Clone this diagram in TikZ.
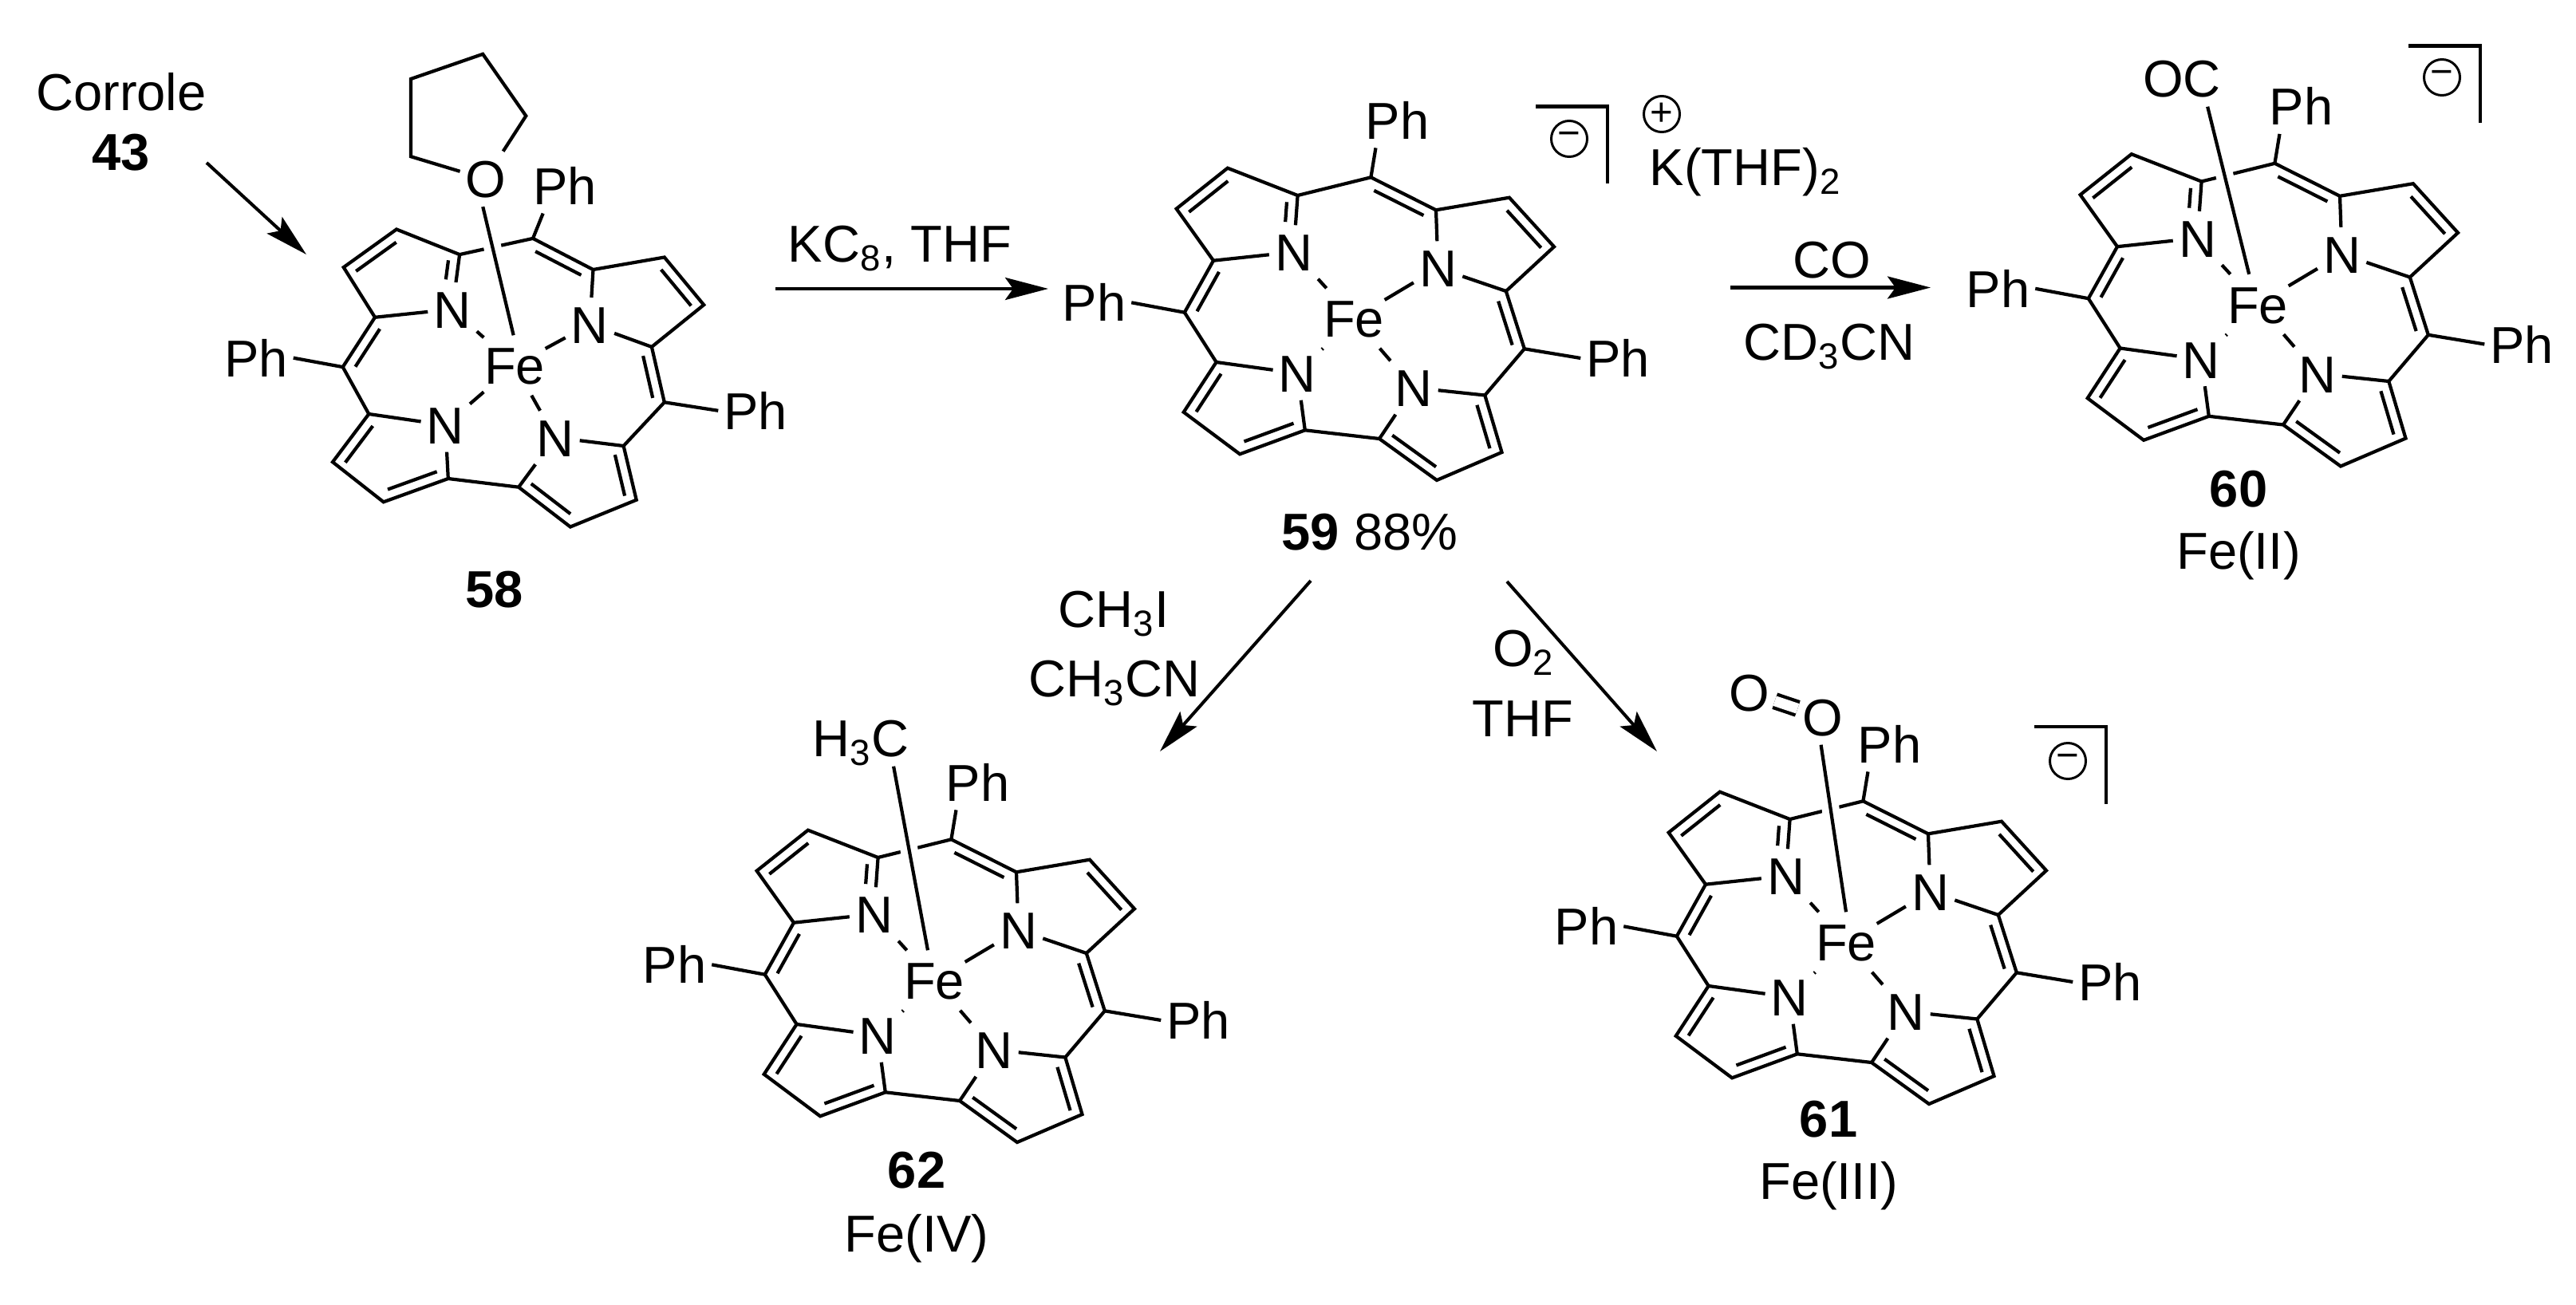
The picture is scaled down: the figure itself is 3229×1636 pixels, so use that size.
\documentclass[tikz,border=0pt]{standalone}
\usepackage{fontspec}
\setmainfont{Liberation Sans}
\usetikzlibrary{arrows.meta,calc}
\tikzset{
  txt/.style={inner sep=0pt, text height=.47cm, text depth=0pt, font=\fontsize{18.5}{22}\selectfont},
  atomN/.style={txt, minimum width=.6cm, minimum height=.66cm},
  atomFe/.style={txt, minimum width=.72cm, minimum height=.74cm},
  atomPh/.style={txt, minimum width=.92cm, minimum height=.68cm},
  atomO/.style={txt, minimum width=.62cm, minimum height=.68cm},
  ligand/.style={txt, minimum height=.7cm},
  bond/.style={line width=1.2pt},
  axial/.style={bond, preaction={draw, white, line width=.22cm}},
  rxn/.style={line width=1.15pt, -{Stealth[length=.54cm, width=.28cm, inset=.1cm]}},
  charge/.style={draw, circle, line width=.85pt, inner sep=0pt, minimum size=.45cm, font=\fontsize{14}{14}\selectfont},
  bracket/.style={line width=1.15pt}
}
% inner line of a double bond, on the left of the way from #1 to #2
\newcommand{\innerbond}[2]{\draw[bond] ($(#1)!.12!(#2)!.13cm!90:(#2)$) -- ($(#2)!.12!(#1)!.13cm!-90:(#1)$);}
\newcommand{\ringpoints}[2]{\foreach \v/\px/\py in {#2} {\coordinate (#1\v) at (\px,\py);}}
\newcommand{\ringN}[2]{\foreach \v/\px/\py in {#2} {\node[atomN] (#1\v) at (\px,\py) {N};}}
\newcommand{\corrolebonds}[1]{
  \draw[bond] (#1a4) -- (#1a3) -- (#1a2) -- (#1a1) -- (#1mt) -- (#1c4) -- (#1c3) -- (#1c2) -- (#1c1) -- (#1mr) -- (#1b8) -- (#1b7) -- (#1b6) -- (#1b5) -- (#1b4) -- (#1b3) -- (#1b2) -- (#1b1) -- (#1ml) -- cycle;
  \draw[bond] (#1a1) -- (#1N1);
  \draw[bond] (#1a4) -- (#1N1);
  \draw[bond] (#1c4) -- (#1N2);
  \draw[bond] (#1c1) -- (#1N2);
  \draw[bond] (#1b1) -- (#1N3);
  \draw[bond] (#1b4) -- (#1N3);
  \draw[bond] (#1b5) -- (#1N4);
  \draw[bond] (#1b8) -- (#1N4);
  \draw[bond] (#1fe) -- (#1N1);
  \draw[bond] (#1fe) -- (#1N2);
  \draw[bond] (#1fe) -- (#1N3);
  \draw[bond] (#1fe) -- (#1N4);
  \draw[bond] (#1mt) -- (#1phT.232);
  \draw[bond] (#1ml) -- (#1phL.0);
  \draw[bond] (#1mr) -- (#1phR.180);
  \innerbond{#1a2}{#1a3}
  \innerbond{#1c4}{#1mt}
  \innerbond{#1c2}{#1c3}
  \innerbond{#1mr}{#1c1}
  \innerbond{#1b7}{#1b8}
  \innerbond{#1b5}{#1b6}
  \innerbond{#1b3}{#1b4}
  \innerbond{#1b1}{#1b2}
  \innerbond{#1a4}{#1ml}
  \draw[bond] ($(#1N1)!.52!(#1a1)!.13cm!90:(#1a1)$) -- ($(#1a1)!.13!(#1N1)!.13cm!-90:(#1N1)$);
}
% #1 name, #2 x, #3 y of the iron
\newcommand{\corrole}[3]{
  \begin{scope}[shift={(#2,#3)}]
    \ringpoints{#1}{a1/-70.4/-154, a2/-158.2/-188.3, a3/-222.4/-137.3, a4/-176/-72.3, ml/-212.2/-7.3,
      b1/-172.4/55, b2/-213.3/117.7, b3/-142.9/170.3, b4/-61.2/140.3, b5/32/151, b6/104/203,
      b7/185.5/168, b8/164.3/96.5, mr/213.8/38.3, c1/190.8/-34, c2/251/-89.7, c3/194.9/-151.3,
      c4/103/-135.7, mt/21.4/-176.7}
    \ringN{#1}{N1/-75.5/-83, N2/105.6/-63, N3/-70.7/69, N4/75/87}
    \node[atomFe] (#1fe) at (0,0) {Fe};
    \node[atomPh] (#1phT) at (54.6,-248.3) {Ph};
    \node[atomPh] (#1phL) at (-325.5,-19.7) {Ph};
    \node[atomPh] (#1phR) at (331,50) {Ph};
    \corrolebonds{#1}
  \end{scope}
}
\begin{document}
\begin{tikzpicture}[x=.01cm, y=-.01cm]
  \useasboundingbox (0,0) rectangle (3229,1636);
  % compound 58
  \begin{scope}[shift={(645,458)}]
    \ringpoints{m58}{a1/-68.9/-138.9, a2/-148/-170.5, a3/-214.3/-122.9, a4/-175/-60.2, ml/-215.3/2.1,
      b1/-182.7/61, b2/-228/121.2, b3/-164.3/171.3, b4/-83.2/142, b5/5.1/152.7, b6/69.9/202.5,
      b7/152.7/168.7, b8/136.6/101, mr/187.8/46.3, c1/171.9/-23.1, c2/237.2/-75.8, c3/187.8/-135.5,
      c4/98.5/-120, mt/23/-159.1}
    \ringN{m58}{N1/-78/-70.3, N2/94.4/-51.3, N3/-86.7/74.9, N4/51/90.5}
    \node[atomFe] (m58fe) at (0,0) {Fe};
    \node[atomPh] (m58phT) at (62.8,-225.2) {Ph};
    \node[atomPh] (m58phL) at (-324,-9.3) {Ph};
    \node[atomPh] (m58phR) at (302,56.8) {Ph};
    \corrolebonds{m58}
    \node[atomO] (m58O) at (-36.7,-233.6) {O};
    \coordinate (thf1) at (-130.1,-261.8);
    \coordinate (thf2) at (-130.1,-359);
    \coordinate (thf3) at (-39.8,-390.2);
    \coordinate (thf4) at (14.3,-312.7);
    \draw[bond] (m58O) -- (thf1) -- (thf2) -- (thf3) -- (thf4) -- (m58O);
    \draw[axial] (m58fe.92) -- (m58O.265);
  \end{scope}
  \node[txt] (lab58) at (620,738) {\textbf{58}};
  \node[txt] (corrole) at (152,115) {Corrole};
  \node[txt] (lab43) at (152,190) {\textbf{43}};
  \coordinate (start58) at (259,204);
  \coordinate (end58) at (384,319);
  \draw[rxn] (start58) -- (end58);

  % compound 59
  \corrole{m59}{1697}{399}
  \node[txt] (lab59) at (1717,666) {\textbf{59} 88\%};
  \coordinate (bra59a) at (1925,133.5);
  \coordinate (bra59b) at (2015,230);
  \draw[bracket] (bra59a) -| (bra59b);
  \node[charge] (minus59) at (1967,174) {−};
  \node[charge] (plus59) at (2083,143) {+};
  \node[txt] (potassium) at (2188,209) {K(THF)\textsubscript{2}};
  \coordinate (start59) at (972,362);
  \coordinate (end59) at (1314,362);
  \draw[rxn] (start59) -- (end59);
  \node[txt] (reagent59) at (1128,305) {KC\textsubscript{8}, THF};

  % compound 60
  \corrole{m60}{2830}{381.5}
  \node[ligand] (oc60) at (2735,98) {OC};
  \draw[axial] (m60fe.106) -- (oc60.312);
  \node[txt] (lab60) at (2806,612) {\textbf{60}};
  \node[txt] (ox60) at (2806,690) {Fe(II)};
  \coordinate (bra60a) at (3019,57.5);
  \coordinate (bra60b) at (3109,154);
  \draw[bracket] (bra60a) -| (bra60b);
  \node[charge] (minus60) at (3061,97) {−};
  \coordinate (start60) at (2169,360.5);
  \coordinate (end60) at (2420,360.5);
  \draw[rxn] (start60) -- (end60);
  \node[txt] (reagent60a) at (2296,325) {CO};
  \node[txt] (reagent60b) at (2293,428) {CD\textsubscript{3}CN};

  % compound 61
  \corrole{m61}{2314}{1181}
  \node[atomO] (oxo) at (2285,899) {O};
  \node[atomO] (oxoEnd) at (2193,868) {O};
  \draw[bond, double, double distance=.13cm] (oxo) -- (oxoEnd);
  \draw[axial] (m61fe.90) -- (oxo.266);
  \node[txt] (lab61) at (2292,1402) {\textbf{61}};
  \node[txt] (ox61) at (2292,1480) {Fe(III)};
  \coordinate (bra61a) at (2550,911);
  \coordinate (bra61b) at (2640,1008);
  \draw[bracket] (bra61a) -| (bra61b);
  \node[charge] (minus61) at (2592,954) {−};
  \coordinate (start61) at (1889,729);
  \coordinate (end61) at (2077,942);
  \draw[rxn] (start61) -- (end61);
  \node[txt] (reagent61a) at (1910,812) {O\textsubscript{2}};
  \node[txt] (reagent61b) at (1909,900) {THF};

  % compound 62
  \corrole{m62}{1171}{1229}
  \node[ligand] (me62) at (1079,925) {H\textsubscript{3}C};
  \draw[axial] (m62fe.102) -- (me62.319);
  \node[txt] (lab62) at (1149,1466) {\textbf{62}};
  \node[txt] (ox62) at (1149,1546) {Fe(IV)};
  \coordinate (start62) at (1643,728);
  \coordinate (end62) at (1454,942);
  \draw[rxn] (start62) -- (end62);
  \node[txt] (reagent62a) at (1396,763) {CH\textsubscript{3}I};
  \node[txt] (reagent62b) at (1397,850) {CH\textsubscript{3}CN};
\end{tikzpicture}
\end{document}
